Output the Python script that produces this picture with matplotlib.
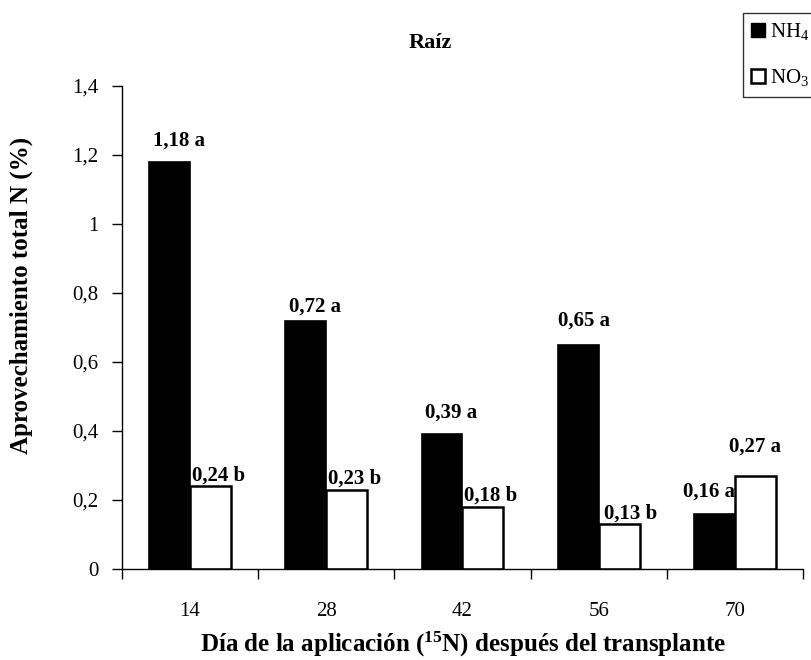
import numpy as np
import matplotlib
matplotlib.use("Agg")
import matplotlib.pyplot as plt
from matplotlib.patches import Patch

plt.rcParams['font.family'] = ['Liberation Serif', 'DejaVu Serif']
plt.rcParams['mathtext.fontset'] = 'custom'
plt.rcParams['mathtext.rm'] = 'Liberation Serif'
plt.rcParams['mathtext.it'] = 'Liberation Serif:italic'
plt.rcParams['mathtext.bf'] = 'Liberation Serif:bold'

# data
days = ['14', '28', '42', '56', '70']
nh4 = [1.18, 0.72, 0.39, 0.65, 0.16]
no3 = [0.24, 0.23, 0.18, 0.13, 0.27]
nh4_labels = ['1,18 a', '0,72 a', '0,39 a', '0,65 a', '0,16 a']
no3_labels = ['0,24 b', '0,23 b', '0,18 b', '0,13 b', '0,27 a']
yticks = [0, 0.2, 0.4, 0.6, 0.8, 1.0, 1.2, 1.4]
ytick_labels = ['0', '0,2', '0,4', '0,6', '0,8', '1', '1,2', '1,4']

# label offsets from bar top centre (pixels: dx, dy up)
nh4_offsets = [(9, 16), (9, 9), (9, 17), (6, 19), (-5, 17)]
no3_offsets = [(8, 6), (8, 6), (8, 6), (11, 6), (0, 24)]

fig = plt.figure(figsize=(8.12, 6.6), dpi=100)
ax = fig.add_axes([122/812, 1-569/660, 681/812, 483/660])

x = np.arange(len(days))
w = 0.3
ax.bar(x - w/2, nh4, width=w, color='black', edgecolor='black', linewidth=1.2)
ax.bar(x + w/2, no3, width=w, color='white', edgecolor='black', linewidth=1.8)

px = 72/100
for i in range(len(days)):
    dx, dy = nh4_offsets[i]
    ax.annotate(nh4_labels[i], (x[i] - w/2, nh4[i]), xytext=(dx*px, dy*px),
                textcoords='offset points', ha='center', va='baseline',
                fontsize=15, fontweight='bold')
    dx, dy = no3_offsets[i]
    ax.annotate(no3_labels[i], (x[i] + w/2, no3[i]), xytext=(dx*px, dy*px),
                textcoords='offset points', ha='center', va='baseline',
                fontsize=15, fontweight='bold')

ax.set_xlim(-0.5, len(days) - 0.5)
ax.set_ylim(0, 1.4)
ax.set_xticks(np.arange(-0.5, len(days), 1.0))
ax.set_xticklabels([])
ax.set_xticks(x, minor=True)
ax.set_xticklabels(days, minor=True, fontsize=15)
ax.tick_params(axis='x', which='major', direction='out', length=7, width=1)
ax.tick_params(axis='x', which='minor', length=0, pad=24)
ax.set_yticks(yticks)
ax.set_yticklabels(ytick_labels, fontsize=15)
ax.tick_params(axis='y', direction='out', length=7, width=1, pad=10)

for s in ['top', 'right']:
    ax.spines[s].set_visible(False)
for s in ['left', 'bottom']:
    ax.spines[s].set_linewidth(1)

ax.set_ylabel('Aprovechamiento total N (%)', fontsize=18, fontweight='bold')
ax.yaxis.set_label_coords(-0.131, 0.567)
ax.set_xlabel(r'Día de la aplicación ($^{\mathbf{15}}$N) después del transplante',
              fontsize=18, fontweight='bold')
ax.xaxis.label.set_va('baseline')
ax.xaxis.set_label_coords(0.5, -0.171)

ax.set_title('Raíz', fontsize=16, fontweight='bold', x=0.452, y=1.079, pad=0)

handles = [Patch(facecolor='black', edgecolor='black'),
           Patch(facecolor='white', edgecolor='black', linewidth=1.8)]
fig.legend(handles, ['NH$_4$', 'NO$_3$'], loc='upper left',
           bbox_to_anchor=(743/812, 1-13/660), fontsize=15,
           frameon=True, fancybox=False, edgecolor='black',
           handlelength=0.65, handleheight=0.65, handletextpad=0.25,
           borderpad=0.4, labelspacing=1.2, borderaxespad=0)

fig.savefig('out.png', dpi=100)
